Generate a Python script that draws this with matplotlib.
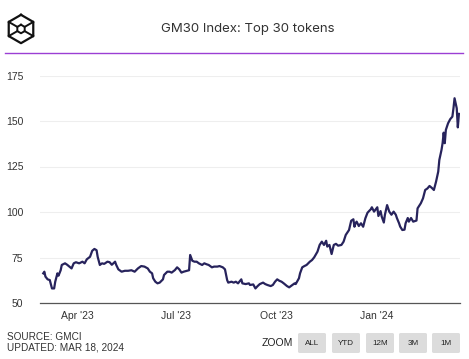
import numpy as np
import pandas as pd
import matplotlib
matplotlib.use("Agg")
import matplotlib.pyplot as plt
from matplotlib.patches import FancyBboxPatch

START = "2023-03-01"

# days since START
days = [0, 1, 2, 4, 6, 8, 10, 11, 13, 14, 16, 17, 20, 22, 24, 26, 28, 30, 33, 36,
        38, 40, 43, 45, 47, 49, 50, 52, 54, 56, 59, 61, 63, 66, 67, 69, 72, 75, 78, 81,
        84, 87, 90, 93, 96, 98, 100, 101, 103, 105, 107, 110, 111, 114, 116, 118, 121, 123, 125, 127,
        129, 132, 134, 135, 137, 139, 141, 143, 146, 148, 150, 152, 155, 157, 160, 162, 165, 167, 169, 170,
        173, 175, 177, 179, 182, 183, 186, 189, 190, 193, 195, 197, 199, 202, 204, 206, 209, 211, 213, 215,
        217, 219, 221, 224, 226, 229, 231, 232, 235, 236, 238, 240, 242, 245, 247, 249, 252, 254, 256, 258,
        260, 261, 263, 265, 267, 269, 271, 274, 276, 278, 281, 283, 285, 286, 287, 288, 290, 292, 294, 296,
        298, 301, 302, 304, 305, 307, 308, 310, 311, 313, 314, 316, 318, 320, 322, 324, 325, 327, 328, 330,
        332, 333, 335, 336, 338, 340, 343, 344, 347, 349, 351, 353, 355, 357, 359, 361, 363, 364, 366, 367,
        368, 369, 370, 372, 374, 376, 377, 378, 379, 380, 381, 382]

index_values = [66.3, 67.2, 64.5, 63.0, 62.6, 58.0, 58.0, 61.7, 66.3, 65.0, 68.0, 70.9, 71.8, 71.0, 70.0, 69.0, 71.8, 72.4, 71.8, 72.7,
                71.8, 74.0, 75.4, 78.7, 79.7, 79.0, 75.4, 70.9, 71.8, 71.5, 72.7, 72.4, 71.0, 72.7, 71.0, 68.5, 67.2, 67.7, 67.7, 68.0,
                67.2, 69.0, 70.3, 70.0, 69.0, 67.2, 66.3, 63.6, 61.7, 60.8, 61.2, 63.0, 65.4, 67.2, 67.2, 66.7, 68.1, 69.6, 68.5, 66.7,
                67.2, 67.7, 68.0, 76.4, 73.2, 72.7, 72.7, 71.8, 70.9, 71.8, 71.3, 70.9, 69.6, 70.0, 70.0, 70.3, 69.6, 68.5, 62.6, 61.2,
                61.7, 61.2, 61.7, 60.8, 63.0, 60.8, 60.4, 60.8, 59.9, 60.2, 58.0, 59.3, 60.4, 61.2, 60.4, 59.9, 59.3, 59.9, 61.7, 63.0,
                62.2, 61.7, 60.8, 59.3, 58.6, 59.9, 60.8, 60.4, 63.6, 66.3, 69.6, 70.3, 70.9, 72.7, 73.6, 75.1, 78.2, 81.9, 83.7, 81.9,
                84.2, 81.0, 81.9, 76.9, 81.9, 82.5, 81.5, 81.9, 83.7, 87.4, 90.1, 95.2, 96.0, 91.9, 93.8, 94.7, 92.3, 93.8, 91.9, 96.5,
                99.6, 101.5, 102.6, 100.2, 101.0, 102.6, 97.8, 100.5, 97.6, 94.2, 98.5, 103.8, 100.2, 98.5, 100.2, 98.5, 96.7, 93.8, 92.0, 90.1,
                90.3, 93.8, 96.7, 94.7, 96.7, 94.7, 95.3, 102.0, 104.8, 107.5, 112.1, 112.9, 114.3, 113.3, 112.1, 116.7, 122.2, 128.6, 134.1, 137.8,
                143.6, 137.8, 145.1, 148.7, 151.0, 152.4, 157.0, 162.5, 159.7, 157.0, 146.5, 153.9]

y_ticks = [50, 75, 100, 125, 150, 175]
x_ticks = ["2023-04-01", "2023-07-01", "2023-10-01", "2024-01-01"]
x_tick_labels = ["Apr '23", "Jul '23", "Oct '23", "Jan '24"]
zoom_buttons = ["ALL", "YTD", "12M", "3M", "1M"]

start = pd.Timestamp(START)
dates = start + pd.to_timedelta(days, unit="D")

W, H = 469, 359
fig = plt.figure(figsize=(W / 100, H / 100), dpi=100)
fig.patch.set_facecolor("white")

def fx(px):
    return px / W

def fy(py):
    return 1 - py / H

# main chart
ax = fig.add_axes([fx(40), fy(303), fx(460) - fx(40), fy(75.5) - fy(303)])
ax.plot(dates, index_values, color="#27235c", lw=1.6, solid_joinstyle="round")
ax.set_ylim(50, 175)
ax.set_xlim(start - pd.Timedelta(days=3), start + pd.Timedelta(days=383))
ax.set_yticks(y_ticks)
ax.set_xticks(pd.to_datetime(x_ticks))
ax.set_xticklabels(x_tick_labels)
ax.grid(axis="y", color="#eeeeee", lw=0.8)
ax.set_axisbelow(True)
for s in ["top", "right", "left"]:
    ax.spines[s].set_visible(False)
ax.spines["bottom"].set_color("#555555")
ax.spines["bottom"].set_linewidth(0.9)
ax.tick_params(axis="both", length=0, labelsize=7.5, colors="#333333",
               labelfontfamily="Liberation Sans")
ax.tick_params(axis="y", pad=12)
ax.tick_params(axis="x", pad=6)
ax.patch.set_alpha(0)

# title and divider
fig.text(fx(248), fy(29), "GM30 Index: Top 30 tokens", ha="center", va="center",
         fontsize=9.5, color="#333333", family="Inter")
fig.add_artist(plt.Line2D([fx(5), fx(463)], [fy(53), fy(53)], color="#9b3fd4", lw=1.0))

# logo
lax = fig.add_axes([fx(4), fy(46), fx(34), fy(12) - fy(46)])
lax.set_xlim(-1.2, 1.2)
lax.set_ylim(-1.2, 1.2)
lax.axis("off")
ang = np.deg2rad(np.arange(90, 450, 60))
hx, hy = np.cos(ang), np.sin(ang)
lax.plot(np.append(hx, hx[0]), np.append(hy, hy[0]), color="#111111", lw=1.6)
r = 0.3
lax.plot(np.append(hx, hx[0]) * r, np.append(hy, hy[0]) * r, color="#111111", lw=1.4)
for i in [1, 2, 4, 5]:
    lax.plot([hx[i], hx[i] * r], [hy[i], hy[i] * r], color="#111111", lw=1.4)

# footer
fig.text(fx(7), fy(337), "SOURCE: GMCI", ha="left", va="center", fontsize=7.2,
         color="#333333", family="Liberation Sans")
fig.text(fx(7), fy(348), "UPDATED: MAR 18, 2024", ha="left", va="center", fontsize=7.2,
         color="#333333", family="Liberation Sans")
fig.text(fx(277), fy(343), "ZOOM", ha="center", va="center", fontsize=7.5,
         color="#222222", family="Liberation Sans")

btn_left = [298, 332, 366, 399, 432]
for label, bl in zip(zoom_buttons, btn_left):
    box = FancyBboxPatch((fx(bl), fy(353)), fx(28), fy(333) - fy(353),
                         boxstyle="round,pad=0,rounding_size=0.004",
                         transform=fig.transFigure, facecolor="#dcdcdc",
                         edgecolor="none")
    fig.add_artist(box)
    fig.text(fx(bl + 14), fy(343.5), label, ha="center", va="center", fontsize=5.8,
             color="#222222", family="Liberation Sans")

fig.savefig("out.png", dpi=100)
